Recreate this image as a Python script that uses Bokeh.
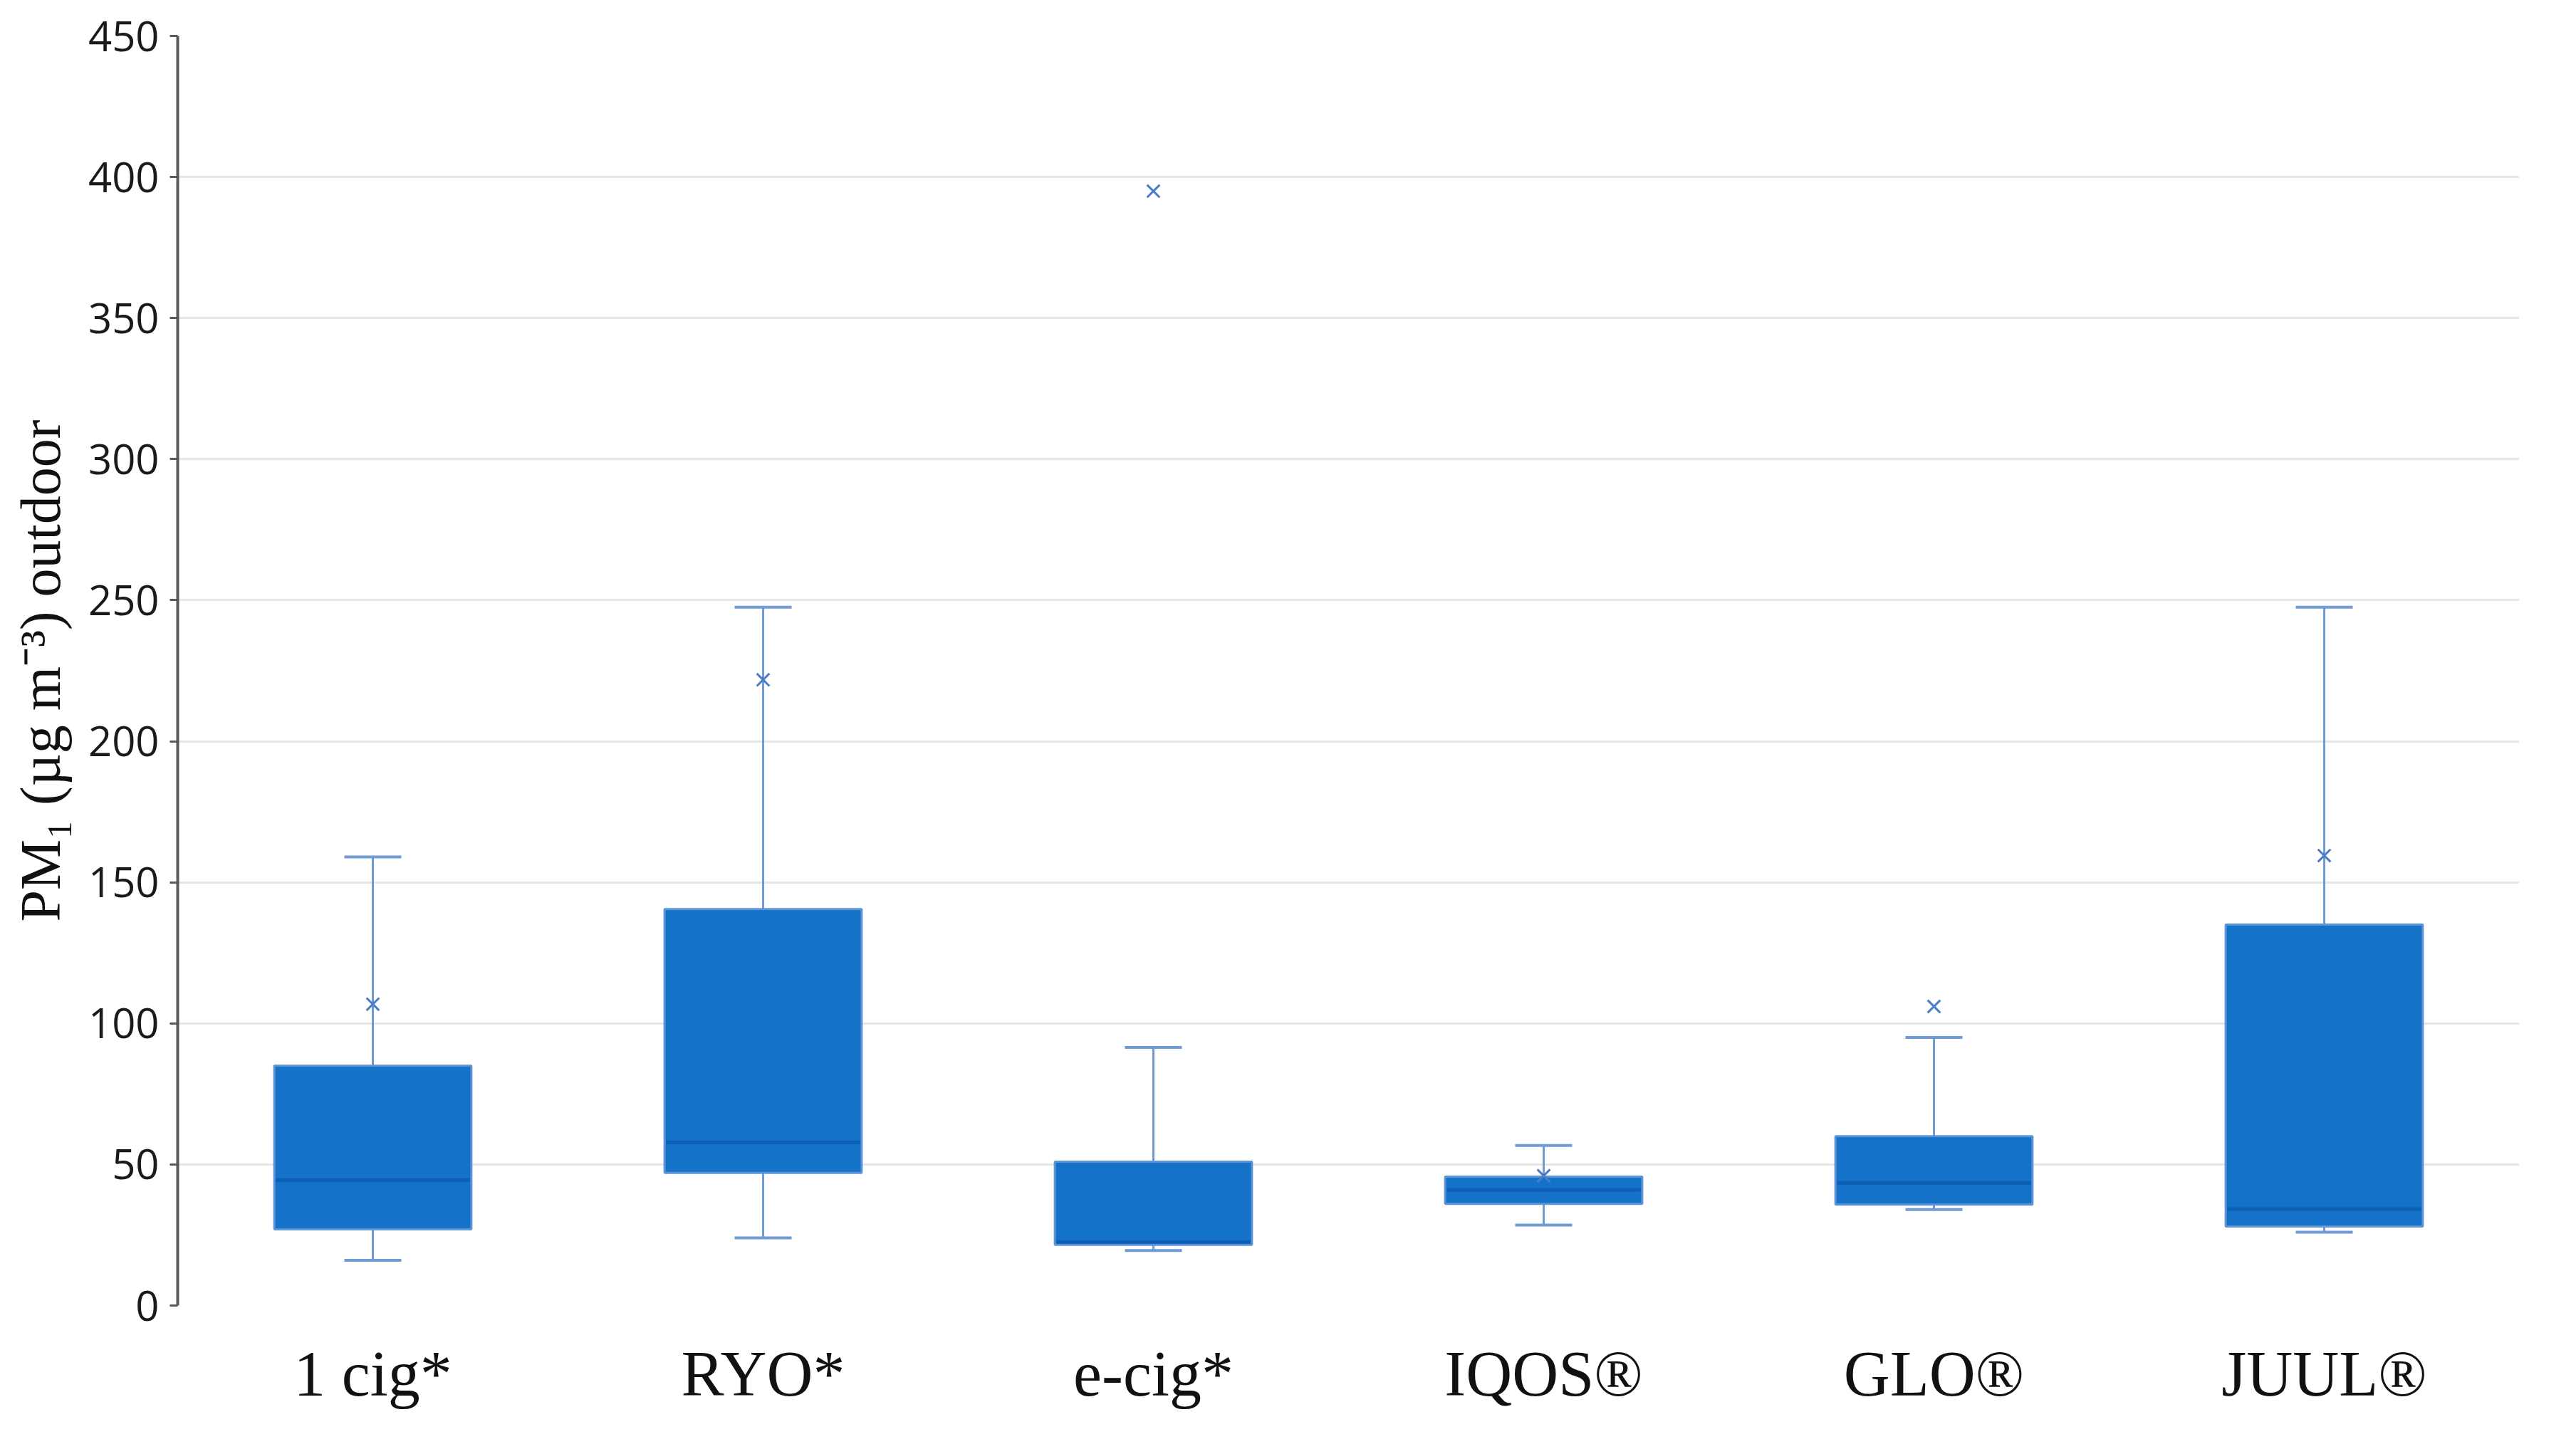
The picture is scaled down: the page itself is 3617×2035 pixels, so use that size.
from bokeh.plotting import figure
from bokeh.models import ColumnDataSource, FactorRange, SingleIntervalTicker
from bokeh.transform import dodge
from bokeh.embed import file_html
from bokeh.resources import INLINE

# ---- data ----
categories = ["1 cig*", "RYO*", "e-cig*", "IQOS®", "GLO®", "JUUL®"]
whisker_low = [16, 24, 19.5, 28.5, 34, 26]
q1 = [27, 47, 21.5, 36, 35.8, 28]
median = [44.5, 57.8, 22.5, 41, 43.5, 34.2]
q3 = [85, 140.5, 51, 45.7, 60, 135]
whisker_high = [159, 247.5, 91.5, 56.7, 95, 247.5]
mean = [106.8, 221.8, 395, 46, 106, 159.5]

src = ColumnDataSource(dict(cat=categories, lo=whisker_low, q1=q1, med=median,
                            q3=q3, hi=whisker_high, mean=mean))

W, H = 3600, 2015
p = figure(width=W, height=H, output_backend="svg", toolbar_location=None,
           x_range=FactorRange(factors=categories, range_padding=0),
           y_range=(0, 450))
p.min_border_left = 249
p.min_border_right = 63
p.min_border_top = 50
p.min_border_bottom = 182
p.outline_line_color = None
p.background_fill_color = "white"
p.border_fill_color = "white"

BOX = "#1572C9"
EDGE = "#5E93D6"
WHISK = "#6E9BD3"
MED = "#0D5FB2"

# whisker stems
p.segment(x0="cat", y0="lo", x1="cat", y1="hi", source=src,
          line_color=WHISK, line_width=3)
# caps
cap = 0.073
p.segment(x0=dodge("cat", -cap, range=p.x_range), y0="lo",
          x1=dodge("cat", cap, range=p.x_range), y1="lo", source=src,
          line_color=WHISK, line_width=4)
p.segment(x0=dodge("cat", -cap, range=p.x_range), y0="hi",
          x1=dodge("cat", cap, range=p.x_range), y1="hi", source=src,
          line_color=WHISK, line_width=4)
# boxes
bw = 0.505
p.vbar(x="cat", width=bw, bottom="q1", top="q3", source=src,
       fill_color=BOX, line_color=EDGE, line_width=3)
# medians
p.segment(x0=dodge("cat", -bw / 2 + 0.004, range=p.x_range), y0="med",
          x1=dodge("cat", bw / 2 - 0.004, range=p.x_range), y1="med", source=src,
          line_color=MED, line_width=5)
# means
p.scatter(x="cat", y="mean", source=src, marker="x", size=25,
          line_color="#4A7CC8", line_width=3)

# grid
p.xgrid.grid_line_color = None
p.ygrid.grid_line_color = "#E6E6E6"
p.ygrid.grid_line_width = 3
p.yaxis.ticker = SingleIntervalTicker(interval=50, num_minor_ticks=0)

# y axis
ya = p.yaxis[0]
ya.axis_line_color = "#595959"
ya.axis_line_width = 4
ya.major_tick_line_color = "#595959"
ya.major_tick_line_width = 3
ya.major_tick_out = 11
ya.major_tick_in = 0
ya.minor_tick_line_color = None
ya.major_label_text_font = "Open Sans"
ya.major_label_text_font_size = "58px"
ya.major_label_text_color = "#1a1a1a"
ya.major_label_standoff = 15
ya.axis_label = "PM\u2081 (\u00b5g m\u207b\u00b3) outdoor"
ya.axis_label_text_font = "Liberation Serif"
ya.axis_label_text_font_style = "normal"
ya.axis_label_text_font_size = "80px"
ya.axis_label_text_color = "#111111"
ya.axis_label_standoff = 20

# x axis
xa = p.xaxis[0]
xa.axis_line_color = None
xa.major_tick_line_color = None
xa.minor_tick_line_color = None
xa.major_label_text_font = "Liberation Serif"
xa.major_label_text_font_size = "90px"
xa.major_label_text_color = "#111111"
xa.major_label_standoff = 40

open("out.html", "w").write(file_html(p, INLINE))
